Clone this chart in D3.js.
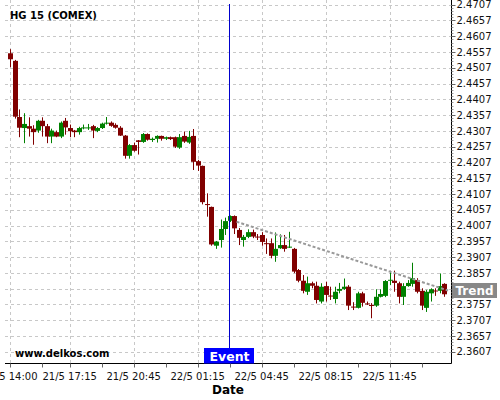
<!DOCTYPE html>
<html><head><meta charset="utf-8">
<script src="https://cdn.jsdelivr.net/npm/d3@7/dist/d3.min.js"></script>
<style>html,body{margin:0;padding:0;background:#fff;}svg{display:block;font-family:"DejaVu Sans",sans-serif;}</style>
</head><body><svg id="c" width="500" height="400"></svg>
<script>
const title = "HG 15 (COMEX)";
const xTickIdx = [0, 13, 27, 41, 55, 69, 83];
const xTickLabels = ["21/5 14:00", "21/5 17:15", "21/5 20:45", "22/5 01:15", "22/5 04:45", "22/5 08:15", "22/5 11:45"];
const xMinorIdx = [7, 20, 34, 48, 62, 76, 90];
const yTicks = [2.4707,2.4657,2.4607,2.4557,2.4507,2.4457,2.4407,2.4357,2.4307,2.4257,2.4207,2.4157,2.4107,2.4057,2.4007,2.3957,2.3907,2.3857,2.3807,2.3757,2.3707,2.3657,2.3607];
const openPrices = [
2.4553,2.4529,2.4351,2.4316,2.4322,2.4314,2.4308,2.4339,2.4322,2.4289,
2.4303,2.4289,2.4339,2.4316,2.4308,2.4303,2.4316,2.4316,2.4322,2.4307,
2.4316,2.4330,2.4333,2.4326,2.4317,2.4292,2.4228,2.4262,2.4277,2.4272,
2.4297,2.4278,2.4282,2.4291,2.4282,2.4287,2.4287,2.4254,2.4291,2.4270,
2.4291,2.4211,2.4196,2.4075,2.4066,2.3943,2.3961,2.3996,2.4022,2.4037,
2.3993,2.3961,2.3971,2.3986,2.3972,2.3977,2.3951,2.3951,2.3911,2.3935,
2.3945,2.3938,2.3933,2.3866,2.3832,2.3797,2.3824,2.3816,2.3766,2.3815,
2.3785,2.3774,2.3800,2.3806,2.3813,2.3750,2.3746,2.3792,2.3760,2.3755,
2.3753,2.3781,2.3784,2.3833,2.3832,2.3824,2.3781,2.3815,2.3822,2.3834,
2.3800,2.3746,2.3792,2.3801,2.3800,2.3822];
const closePrices = [
2.4534,2.4352,2.4317,2.4329,2.4314,2.4303,2.4339,2.4322,2.4289,2.4308,
2.4289,2.4333,2.4318,2.4306,2.4303,2.4316,2.4318,2.4318,2.4308,2.4316,
2.4330,2.4333,2.4323,2.4317,2.4292,2.4228,2.4262,2.4244,2.4272,2.4297,
2.4279,2.4282,2.4291,2.4282,2.4287,2.4281,2.4257,2.4287,2.4273,2.4288,
2.4209,2.4197,2.4081,2.4073,2.3947,2.3956,2.3996,2.4021,2.4037,2.3998,
2.3968,2.3971,2.3986,2.3972,2.3970,2.3955,2.3948,2.3911,2.3933,2.3945,
2.3933,2.3940,2.3861,2.3832,2.3800,2.3824,2.3816,2.3771,2.3813,2.3787,
2.3784,2.3797,2.3806,2.3813,2.3753,2.3748,2.3792,2.3762,2.3759,2.3754,
2.3781,2.3790,2.3831,2.3835,2.3825,2.3781,2.3815,2.3825,2.3840,2.3797,
2.3753,2.3797,2.3805,2.3799,2.3815,2.3789];
const highPrices = [
2.4566,2.4532,2.4375,2.4363,2.4350,2.4325,2.4342,2.4350,2.4329,2.4314,
2.4308,2.4337,2.4348,2.4327,2.4310,2.4320,2.4327,2.4329,2.4326,2.4319,
2.4333,2.4351,2.4337,2.4331,2.4322,2.4294,2.4265,2.4270,2.4278,2.4300,
2.4299,2.4286,2.4293,2.4292,2.4289,2.4289,2.4289,2.4297,2.4305,2.4307,
2.4313,2.4215,2.4197,2.4109,2.4067,2.3958,2.4026,2.4032,2.4039,2.4039,
2.3999,2.3977,2.3995,2.3994,2.3980,2.3986,2.3966,2.3966,2.3985,2.3979,
2.3977,2.3987,2.3936,2.3869,2.3850,2.3845,2.3829,2.3829,2.3824,2.3829,
2.3813,2.3813,2.3825,2.3839,2.3818,2.3764,2.3797,2.3797,2.3766,2.3761,
2.3805,2.3805,2.3834,2.3861,2.3864,2.3829,2.3824,2.3834,2.3889,2.3840,
2.3808,2.3803,2.3808,2.3808,2.3855,2.3824];
const lowPrices = [
2.4509,2.4346,2.4287,2.4268,2.4289,2.4263,2.4301,2.4289,2.4268,2.4268,
2.4287,2.4284,2.4295,2.4287,2.4287,2.4295,2.4312,2.4310,2.4284,2.4303,
2.4313,2.4327,2.4320,2.4314,2.4291,2.4219,2.4219,2.4241,2.4232,2.4269,
2.4276,2.4272,2.4270,2.4276,2.4278,2.4278,2.4253,2.4250,2.4269,2.4266,
2.4183,2.4180,2.4074,2.4035,2.3943,2.3933,2.3937,2.3977,2.4018,2.3980,
2.3945,2.3940,2.3967,2.3967,2.3961,2.3943,2.3917,2.3903,2.3892,2.3933,
2.3924,2.3936,2.3856,2.3827,2.3792,2.3787,2.3808,2.3760,2.3760,2.3766,
2.3771,2.3760,2.3792,2.3803,2.3739,2.3739,2.3744,2.3750,2.3755,2.3713,
2.3749,2.3779,2.3780,2.3818,2.3797,2.3760,2.3755,2.3813,2.3813,2.3792,
2.3739,2.3733,2.3766,2.3784,2.3792,2.3781];
const eventIdx = 48;
const eventLabel = "Event";
const trendIdx = [49.5, 95.8];
const trendVal = [2.4019, 2.3801];
const trendLabel = "Trend";
const xTitle = "Date";
const watermark = "www.delkos.com";

(function () {
const svg = d3.select("#c");
const pL = 5, pR = 451.5, pT = 0, pB = 363.5;
const x = d3.scaleLinear().domain([0, 95]).range([10.3, 444.45]);
const y = d3.scaleLinear().domain([2.3607, 2.4707]).range([351.7, 4.7]);
const UP = "#008000", DOWN = "#800000";
const isUp = i => closePrices[i] > openPrices[i];

// gridlines
const grid = svg.append("g").attr("stroke", "#c8c8c8").attr("stroke-dasharray", "3,3").attr("stroke-width", 1);
grid.selectAll("line.h").data(yTicks).join("line")
  .attr("x1", pL).attr("x2", pR)
  .attr("y1", d => Math.round(y(d)) + 0.5).attr("y2", d => Math.round(y(d)) + 0.5);
grid.selectAll("line.v").data(xTickIdx).join("line")
  .attr("y1", pT).attr("y2", pB)
  .attr("x1", d => Math.round(x(d)) + 0.5).attr("x2", d => Math.round(x(d)) + 0.5);

// candles
const idx = d3.range(openPrices.length);
const cg = svg.append("g");
cg.selectAll("line").data(idx).join("line")
  .attr("x1", i => Math.round(x(i)) + 0.5).attr("x2", i => Math.round(x(i)) + 0.5)
  .attr("y1", i => y(highPrices[i])).attr("y2", i => y(lowPrices[i]))
  .attr("stroke", i => isUp(i) ? UP : DOWN).attr("stroke-width", 1);
cg.selectAll("rect").data(idx).join("rect")
  .attr("x", i => Math.round(x(i)) - 2).attr("width", 5)
  .attr("y", i => y(Math.max(openPrices[i], closePrices[i])))
  .attr("height", i => Math.max(1, Math.abs(y(openPrices[i]) - y(closePrices[i]))))
  .attr("fill", i => isUp(i) ? UP : DOWN);

// trend line
svg.append("line")
  .attr("x1", x(trendIdx[0])).attr("y1", y(trendVal[0]))
  .attr("x2", x(trendIdx[1])).attr("y2", y(trendVal[1]))
  .attr("stroke", "#999").attr("stroke-width", 2).attr("stroke-dasharray", "3,2");

// event line
const ex = Math.round(x(eventIdx)) - 0.5;
svg.append("line").attr("x1", ex).attr("x2", ex).attr("y1", 4).attr("y2", 348)
  .attr("stroke", "#0000cc").attr("stroke-width", 1);

// x axis
const xAxis = svg.append("g").attr("transform", `translate(0,${pB})`);
xAxis.append("line").attr("x1", pL).attr("x2", pR).attr("stroke", "#000");
xAxis.selectAll("line.t").data(xTickIdx.concat(xMinorIdx)).join("line")
  .attr("x1", d => Math.round(x(d)) + 0.5).attr("x2", d => Math.round(x(d)) + 0.5)
  .attr("y1", 0).attr("y2", 4).attr("stroke", "#666");
xAxis.selectAll("text").data(xTickIdx).join("text")
  .attr("x", d => x(d)).attr("y", 16).attr("text-anchor", "middle")
  .attr("font-size", "10px").attr("fill", "#111").text((d, i) => xTickLabels[i]);

// y axis (right)
const yAxis = svg.append("g").attr("transform", `translate(${pR},0)`);
yAxis.append("line").attr("y1", pT).attr("y2", pB).attr("stroke", "#000");
const minor = d3.range(0, 111).map(k => 2.3607 + k * 0.001).filter(v => y(v) > 1);
yAxis.selectAll("line.m").data(minor).join("line")
  .attr("x1", 0).attr("x2", 2).attr("y1", d => Math.round(y(d)) + 0.5).attr("y2", d => Math.round(y(d)) + 0.5)
  .attr("stroke", "#999");
yAxis.selectAll("line.t").data(yTicks).join("line")
  .attr("x1", 0).attr("x2", 4).attr("y1", d => Math.round(y(d)) + 0.5).attr("y2", d => Math.round(y(d)) + 0.5)
  .attr("stroke", "#666");
yAxis.selectAll("text").data(yTicks).join("text")
  .attr("x", 5).attr("y", d => y(d) + 3.7)
  .attr("font-size", "10px").attr("fill", "#111").text(d => d.toFixed(4));

// labels
svg.append("text").attr("x", 10).attr("y", 19).attr("font-size", "10px").attr("font-weight", "bold").text(title);
svg.append("text").attr("x", 15).attr("y", 357).attr("font-size", "10px").attr("font-weight", "bold").text(watermark);
svg.append("text").attr("x", 228).attr("y", 393.5).attr("text-anchor", "middle").attr("font-size", "12px").attr("font-weight", "bold").text(xTitle);

// event box
svg.append("rect").attr("x", ex - 25.5).attr("y", 348).attr("width", 50).attr("height", pB - 348).attr("fill", "#0000ff");
svg.append("text").attr("x", ex).attr("y", 360.5).attr("text-anchor", "middle").attr("font-size", "12.5px")
  .attr("font-weight", "bold").attr("fill", "#fff").text(eventLabel);

// trend label
const ty = y(trendVal[1]);
svg.append("rect").attr("x", pR + 0.5).attr("y", ty - 7.5).attr("width", 45).attr("height", 15).attr("fill", "#888");
svg.append("text").attr("x", pR + 23).attr("y", ty + 4.5).attr("text-anchor", "middle").attr("font-size", "12px")
  .attr("font-weight", "bold").attr("fill", "#fff").text(trendLabel);
})();
</script></body></html>
